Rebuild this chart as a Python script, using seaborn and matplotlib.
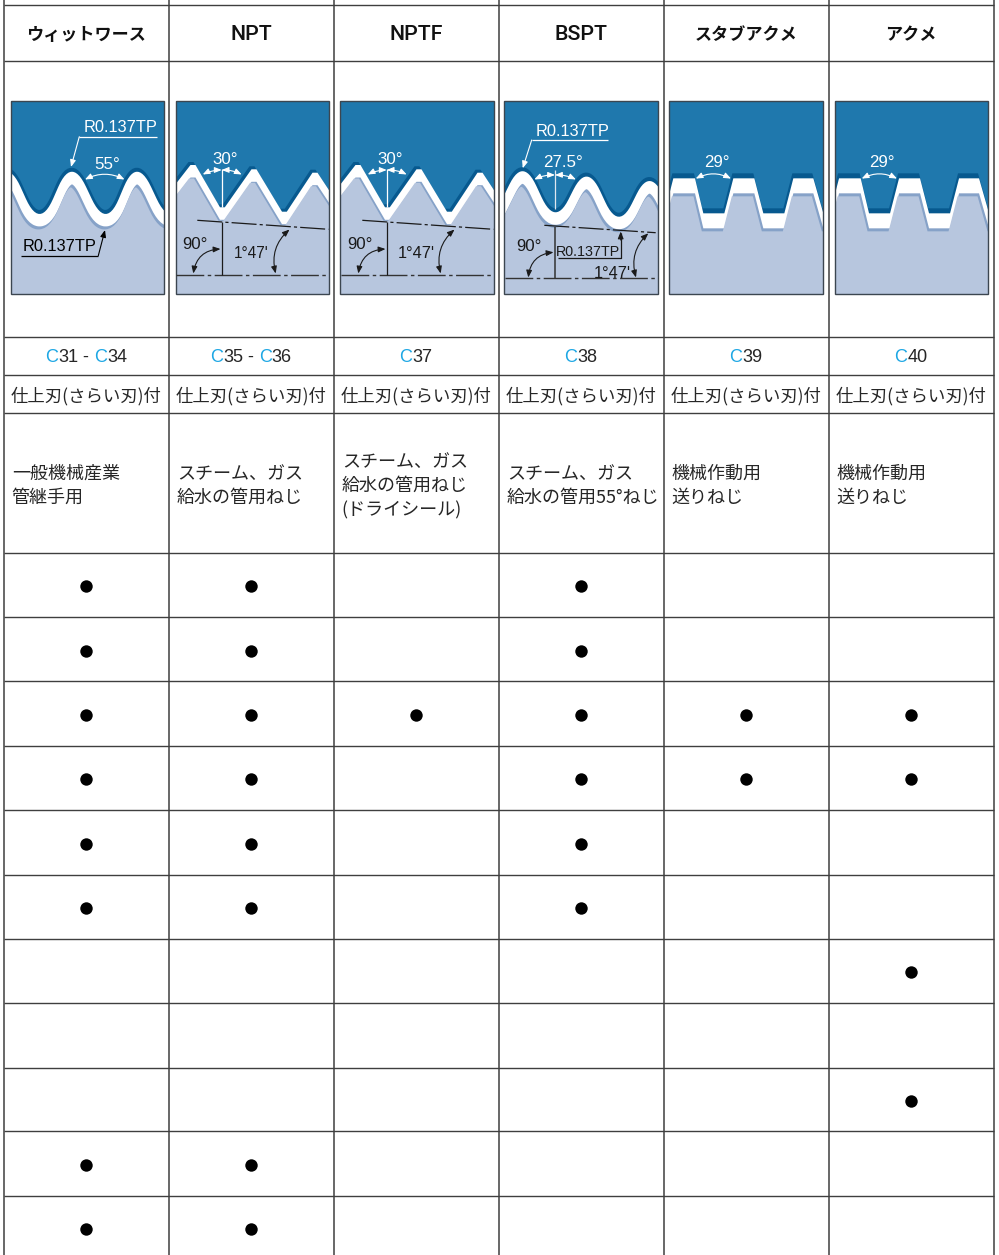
import numpy as np
import pandas as pd
import matplotlib
matplotlib.use("Agg")
import matplotlib.pyplot as plt
from matplotlib.patches import Rectangle, Polygon
import seaborn as sns

sns.set_theme(style="white")
JP = ["Noto Sans CJK JP", "DejaVu Sans"]
LAT = ["Liberation Sans", "DejaVu Sans"]

# ---- table content ----
headers = ["ウィットワース", "NPT", "NPTF", "BSPT", "スタブアクメ", "アクメ"]
codes = [["C31", "C34"], ["C35", "C36"], ["C37"], ["C38"], ["C39"], ["C40"]]
edge_note = "仕上刃(さらい刃)付"
uses = ["一般機械産業\n管継手用",
        "スチーム、ガス\n給水の管用ねじ",
        "スチーム、ガス\n給水の管用ねじ\n(ドライシール)",
        "スチーム、ガス\n給水の管用55°ねじ",
        "機械作動用\n送りねじ",
        "機械作動用\n送りねじ"]
row_marks = [
    [1, 1, 0, 1, 0, 0],
    [1, 1, 0, 1, 0, 0],
    [1, 1, 1, 1, 1, 1],
    [1, 1, 0, 1, 1, 1],
    [1, 1, 0, 1, 0, 0],
    [1, 1, 0, 1, 0, 0],
    [0, 0, 0, 0, 0, 1],
    [0, 0, 0, 0, 0, 0],
    [0, 0, 0, 0, 0, 1],
    [1, 1, 0, 0, 0, 0],
    [1, 1, 0, 0, 0, 0],
]

# ---- layout (pixels) ----
col_edges = [4.3, 169.2, 334.2, 499.2, 664, 829, 994]
head_lines = [5.3, 60.5, 337.2, 375.2, 412.8]
row_edges = [552.8, 617.2, 681.4, 745.8, 810.2, 874.6, 938.8, 1003.2, 1067.6, 1131.4, 1195.8, 1260.0]
panels_x = [(10.7, 164), (175.5, 328.7), (340.3, 493.7), (504, 658), (669.3, 822.7), (835, 988.3)]
panel_top, panel_bottom = 100.8, 294

TOOL = "#1f78ad"
DARK = "#07598f"
MID = "#86a2c8"
LIGHT = "#b7c6de"
LINE = "#3f3f3f"
INK = "#262626"

fig = plt.figure(figsize=(9.99, 12.55), dpi=100, facecolor="white")
ax = fig.add_axes([0, 0, 1, 1])
ax.set_xlim(0, 999)
ax.set_ylim(1255, 0)
ax.axis("off")

# ---- grid ----
for y in head_lines + row_edges[:-1]:
    ax.plot([col_edges[0], col_edges[-1]], [y, y], color=LINE, lw=1.0, zorder=1, solid_capstyle="butt")
for x in col_edges:
    ax.plot([x, x], [0, 1255], color=LINE, lw=1.1, zorder=1, solid_capstyle="butt")

centers = [(a + b) / 2 - 0.8 for a, b in zip(col_edges[:-1], col_edges[1:])]
lefts = [a + 7.5 for a in col_edges[:-1]]

# ---- thread drawing helpers ----
def rounded(points, frac):
    pts = [np.array(p, float) for p in points]
    out = [pts[0]]
    for i in range(1, len(pts) - 1):
        a = pts[i] + frac * (pts[i - 1] - pts[i])
        b = pts[i] + frac * (pts[i + 1] - pts[i])
        for t in np.linspace(0, 1, 14):
            out.append((1 - t) ** 2 * a + 2 * t * (1 - t) * pts[i] + t ** 2 * b)
    out.append(pts[-1])
    arr_ = np.array(out)
    s = np.r_[0, np.cumsum(np.hypot(*np.diff(arr_, axis=0).T))]
    u = np.arange(0, s[-1], 0.5)
    return np.c_[np.interp(u, s, arr_[:, 0]), np.interp(u, s, arr_[:, 1])]

def shifted(curve, dx, dy, dn=0.0):
    c = curve + np.array([dx, dy])
    if dn:
        t = np.gradient(curve, axis=0)
        t = t / np.maximum(np.hypot(t[:, 0], t[:, 1]), 1e-9)[:, None]
        c = c + dn * np.c_[-t[:, 1], t[:, 0]]
    return c

def panel(i, curve, dark, mid, light):
    x0, x1 = panels_x[i]
    rect = Rectangle((x0, panel_top), x1 - x0, panel_bottom - panel_top, fc=TOOL, ec="none", zorder=2)
    ax.add_patch(rect)
    for shift, col in zip([dark, (0, 0), mid, light], [DARK, "white", MID, LIGHT]):
        c = shifted(curve, *shift)
        verts = np.vstack([c, [c[-1, 0], 400], [c[0, 0], 400]])
        poly = Polygon(verts, closed=True, fc=col, ec="none", zorder=3)
        ax.add_patch(poly)
        poly.set_clip_path(rect)
    ax.add_patch(Rectangle((x0, panel_top), x1 - x0, panel_bottom - panel_top, fc="none", ec="#3c4650", lw=1.0, zorder=8))

ROUND_LAYERS = dict(dark=(-0.3, -2, -2), mid=(0, 6, 6.5), light=(-1.2, 9, 6.5))

whit = rounded([(-26, 229.3), (6.7, 156.4), (39.7, 229.3), (71.7, 156.4), (106, 229.3),
                (136.7, 156.4), (171, 229.3), (201, 156.4)], 0.42)
panel(0, whit, **ROUND_LAYERS)

npt_pts = [(161, 203), (190.5, 165), (195.5, 165), (220, 207.3), (224.8, 207.3), (251.5, 169.3),
           (256.5, 169.3), (282, 211.7), (286.8, 211.7), (312.5, 172.7), (317.5, 172.7), (346, 216)]
npt = np.array(npt_pts, float)
panel(1, npt, (-2, -3), (0, 12.5), (-1.5, 13.5))
panel(2, npt + [165, 0], (-2, -3), (0, 12.5), (-1.5, 13.5))

bspt = rounded([(491, 221.5), (523, 157.2), (555, 226.2), (587, 162.8), (618.5, 230.5),
                (650, 167.2), (682, 235.5)], 0.42)
panel(3, bspt, **ROUND_LAYERS)

acme_zx = [-65, -2, 25, 90, 115, 178, 205, 268, 295, 358, 385, 445, 475, 538]
acme_zy = [370, 370, 265, 265, 370, 370, 265, 265, 370, 370, 265, 265, 370, 370]
acme = np.array([[665 + a / 3, 90 + b / 3] for a, b in zip(acme_zx, acme_zy)])
panel(4, acme, (-1, -5), (0, 15), (-1.5, 18))
panel(5, acme + [165.7, 0], (-1, -5), (0, 15), (-1.5, 18))

# ---- annotation helpers ----
def label(x, y, s, col, size=11.8):
    ax.text(x, y + 1.5, s, color=col, fontsize=size, family=LAT, ha="center", va="center", zorder=10)

def seg(xs, ys, col, lw=0.9, ls="-"):
    ax.plot(xs, ys, color=col, lw=lw, ls=ls, zorder=9, solid_capstyle="butt")

def arr(p_from, p_to, col, rad=0.0, style="-|>", lw=0.8):
    ax.annotate("", xy=p_to, xytext=p_from, zorder=10,
                arrowprops=dict(arrowstyle=style + ",head_length=0.35,head_width=0.14", color=col, lw=lw,
                                connectionstyle=f"arc3,rad={rad}", shrinkA=0, shrinkB=0))

DASH = (0, (20, 2.5, 2.5, 2.5))
BOTH = "<|-|>"
BLK = "#1a1a1a"

# Whitworth
label(120.7, 126.5, "R0.137TP", "white")
seg([79.3, 156.7], [136.7, 136.7], "white")
arr((79.3, 136.7), (71, 167), "white")
label(106.7, 163.3, "55°", "white", size=12.2)
arr((85, 179.5), (124.5, 179.5), "white", rad=-0.25, style=BOTH)
label(59.3, 245, "R0.137TP", "black")
seg([21, 98.3], [255.7, 255.7], "black")
arr((98.3, 255.7), (105, 230), "black")

# NPT / NPTF
for off, sz in ((0, 11.2), (165, 11.8)):
    label(224.7 + off, 157.7, "30°", "white", size=12.2)
    seg([221.7 + off] * 2, [168.5, 206.5], "white")
    arr((221.7 + off, 170), (202.7 + off, 174.5), "white", rad=0.12, style=BOTH)
    arr((221.7 + off, 170), (241.7 + off, 174.5), "white", rad=-0.12, style=BOTH)
    seg([197.3 + off, 328.5 + off], [220.3, 229.3], BLK, ls=DASH)
    seg([175.7 + off, 325.5 + off], [274.7, 274.7], "#333333", lw=1.0, ls=DASH)
    seg([221.7 + off] * 2, [221.5, 274.7], BLK)
    label(195 + off, 242.7, "90°", BLK, size=12.2)
    label(251.7 + off, 251.7, "1°47'", BLK, size=sz)
    arr((220.5 + off, 249), (193.3 + off, 273.5), BLK, rad=0.4, style=BOTH)
    arr((289.5 + off, 229.5), (275.7 + off, 273.5), BLK, rad=0.3, style=BOTH)

# BSPT
label(572.3, 130, "R0.137TP", "white")
seg([531.7, 608.3], [140, 140], "white")
arr((531.7, 140), (522.7, 168.3), "white")
label(563.3, 160.7, "27.5°", "white", size=12.2)
seg([555, 555], [170, 209], "#dfe7ef")
arr((555, 175), (534.3, 179.5), "white", rad=0.12, style=BOTH)
arr((555, 175), (575.9, 179.5), "white", rad=-0.12, style=BOTH)
seg([544.3, 655.7], [225.3, 232.7], BLK, ls=DASH)
seg([505, 657.7], [278.3, 278.3], "#333333", lw=1.0, ls=DASH)
seg([555, 555], [226.7, 278.3], "#333333", lw=1.1)
label(529, 245, "90°", BLK, size=12.2)
label(588.3, 250, "R0.137TP", BLK, size=10.3)
seg([557.7, 620.7, 620.7], [258.3, 258.3, 233], BLK)
arr((620.7, 240), (620.7, 231.5), BLK)
label(612.3, 272.3, "1°47'", BLK)
arr((553.5, 252.3), (528.3, 277.5), BLK, rad=0.4, style=BOTH)
arr((648.3, 233.3), (636, 277.5), BLK, rad=0.3, style=BOTH)

# Stub Acme / Acme
for off, tx in ((0, 716.7), (166, 882.3)):
    label(tx, 161, "29°", "white", size=12.2)
    arr((695.7 + off, 178.6), (731 + off, 178.6), "white", rad=-0.25, style=BOTH)

# ---- text ----
HEAD_Y = 35
for cx, h in zip(centers, headers):
    if h.isascii():
        ax.text(cx, HEAD_Y, h, fontsize=15.4, family=["Roboto", "DejaVu Sans"], weight=500, color="#111111", ha="center", va="center", zorder=10)
    else:
        ax.text(cx, HEAD_Y, h, fontsize=12.3, family=JP, weight="bold", color="#111111", ha="center", va="center", zorder=10)

fig.canvas.draw()
renderer = fig.canvas.get_renderer()

def text_w(s, size):
    t = ax.text(0, 0, s, fontsize=size, family=LAT)
    w = t.get_window_extent(renderer).width
    t.remove()
    return w

CODE_SIZE = 13.1
for cx, code in zip(centers, codes):
    pieces = []
    for k, c in enumerate(code):
        if k:
            pieces.append((" - ", INK))
        pieces.append((c[0], "#1ea7e4"))
        pieces.append((c[1:], INK))
    full = "".join(p[0] for p in pieces)
    total = text_w(full, CODE_SIZE)
    x = cx - total / 2
    prefix = ""
    for s, col in pieces:
        off = text_w(prefix + s + "|", CODE_SIZE) - text_w(s + "|", CODE_SIZE) if prefix else 0
        ax.text(x + off, 358, s, fontsize=CODE_SIZE, family=LAT, color=col, ha="left", va="center", zorder=10)
        prefix += s

for cx, lx, u in zip(centers, lefts, uses):
    ax.text(cx, 396, edge_note, fontsize=12.5, family=JP, color=INK, ha="center", va="center", zorder=10)
    lines = u.split("\n")
    y0 = 486 - (len(lines) - 1) * 12.2
    for j, ln in enumerate(lines):
        ax.text(lx, y0 + j * 24.4, ln, fontsize=13, family=JP, color=INK, ha="left", va="center", zorder=10)

# ---- marks ----
row_centers = [(a + b) / 2 + 1.3 for a, b in zip(row_edges[:-1], row_edges[1:])]
records = [{"x": centers[c], "y": row_centers[r]}
           for r, marks in enumerate(row_marks) for c, m in enumerate(marks) if m]
dots = pd.DataFrame(records)
sns.scatterplot(data=dots, x="x", y="y", ax=ax, color="black", s=80, linewidth=0, zorder=10, legend=False)
ax.set_xlim(0, 999)
ax.set_ylim(1255, 0)
ax.axis("off")

fig.savefig("out.png", dpi=100, facecolor="white")
